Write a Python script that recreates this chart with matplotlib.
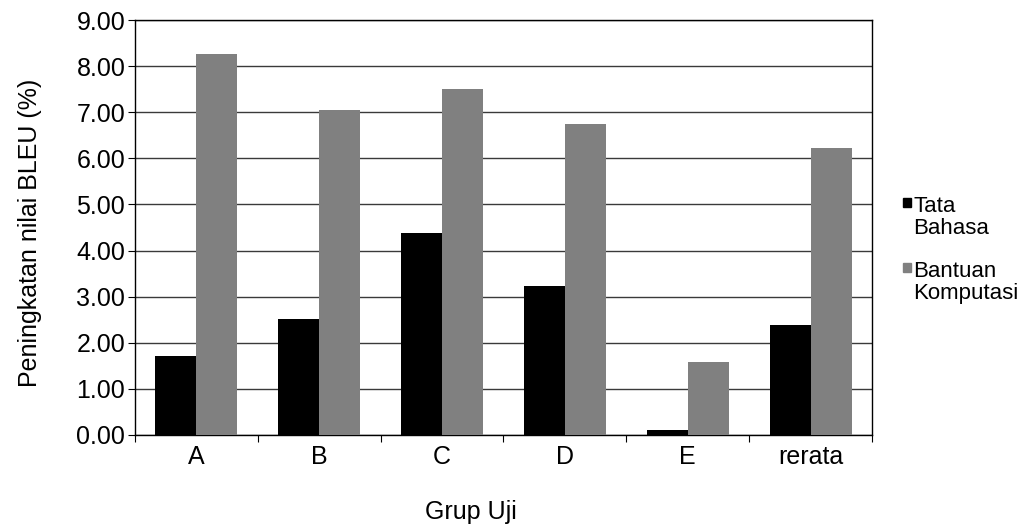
import matplotlib.pyplot as plt
from matplotlib.patches import Rectangle
import numpy as np

plt.rcParams['font.family'] = ['Liberation Sans', 'DejaVu Sans']

groups = ['A', 'B', 'C', 'D', 'E', 'rerata']
tata_bahasa = [1.71, 2.52, 4.38, 3.23, 0.11, 2.39]
bantuan_komputasi = [8.26, 7.05, 7.51, 6.75, 1.58, 6.23]
series_names = [['Tata', 'Bahasa'], ['Bantuan', 'Komputasi']]
series_colors = ['#000000', '#808080']
yticks = np.arange(0, 10, 1)

W, H = 1030, 527
fig = plt.figure(figsize=(W / 100, H / 100), dpi=100)
ax = fig.add_axes([135 / W, 1 - 435 / H, (872 - 135) / W, (435 - 20) / H])

x = np.arange(len(groups))
w = 1 / 3
ax.bar(x - w / 2, tata_bahasa, w, color=series_colors[0], zorder=3)
ax.bar(x + w / 2, bantuan_komputasi, w, color=series_colors[1], zorder=3)

ax.set_xlim(-0.5, len(groups) - 0.5)
ax.set_ylim(0, 9)
ax.set_yticks(yticks)
ax.set_yticklabels(['%.2f' % v for v in yticks], fontsize=18)
ax.yaxis.grid(True, color='#3a3a3a', linewidth=1, zorder=0)
ax.set_axisbelow(True)

# category names in the middle, tick marks between groups
ax.set_xticks(np.arange(-0.5, len(groups), 1))
ax.set_xticklabels([])
ax.set_xticks(x, minor=True)
ax.set_xticklabels(groups, minor=True, fontsize=18)
ax.tick_params(axis='x', which='minor', length=0, pad=7)
ax.tick_params(axis='x', which='major', length=5, direction='out', color='black')
ax.tick_params(axis='y', length=5, direction='out', pad=2)

for s in ax.spines.values():
    s.set_color('black')
    s.set_linewidth(1)

fig.text(30 / W, 1 - 233 / H, 'Peningkatan nilai BLEU (%)', fontsize=18,
         rotation=90, ha='center', va='center')
fig.text(471 / W, 1 - 519 / H, 'Grup Uji', fontsize=18, ha='center', va='baseline')

# legend on the right, square aligned with first line of each label
for i, (lines, col) in enumerate(zip(series_names, series_colors)):
    top = 198 + i * 65
    fig.add_artist(Rectangle((903 / W, 1 - (top + 9) / H), 8 / W, 9 / H,
                             transform=fig.transFigure, color=col))
    for j, line in enumerate(lines):
        fig.text(913 / W, 1 - (top + 14 + j * 22) / H, line, fontsize=16,
                 ha='left', va='baseline')

fig.savefig('out.png', dpi=100)
